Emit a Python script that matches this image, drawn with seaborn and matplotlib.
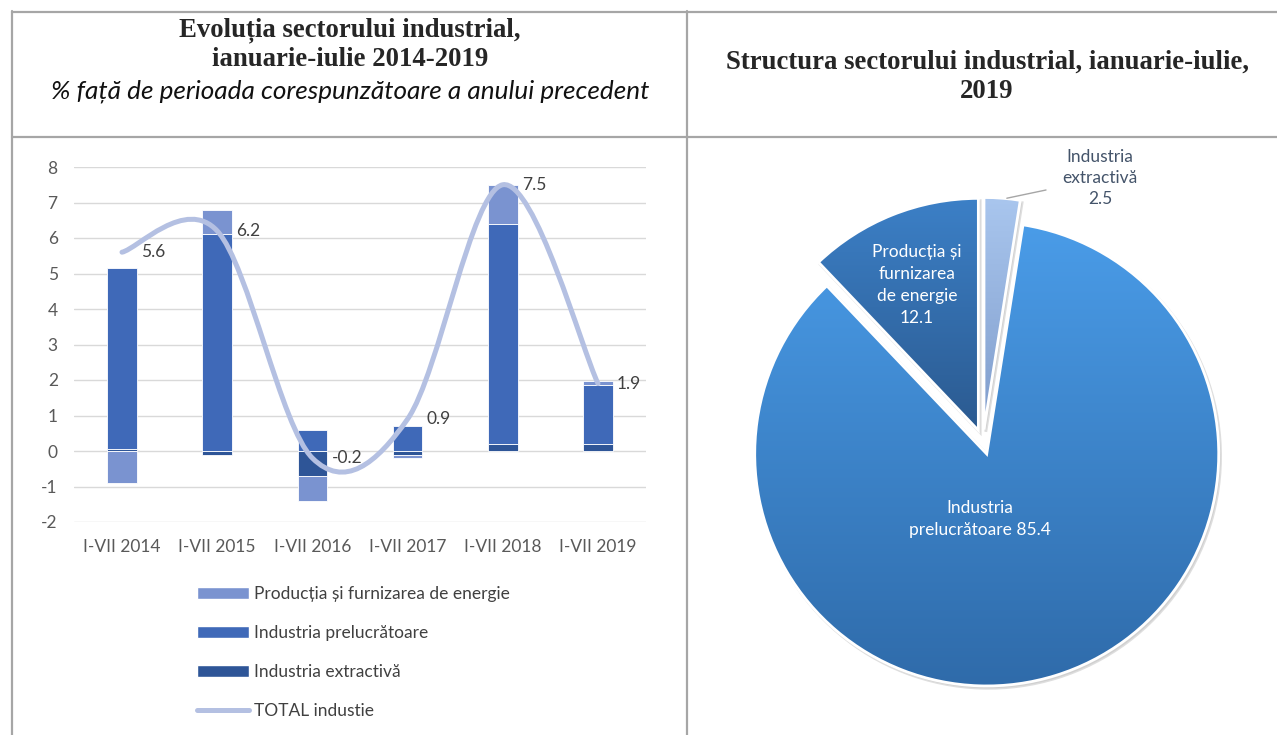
"""
Industrial sector chart: stacked contributions + total line, and structure pie.
"""

import numpy as np
import matplotlib
matplotlib.use('Agg')
import matplotlib.pyplot as plt
import seaborn as sns
import pandas as pd
from matplotlib.path import Path
from matplotlib.patches import PathPatch, Patch, Wedge
from matplotlib.lines import Line2D
from matplotlib.colors import LinearSegmentedColormap

W, H = 1277, 735

# ---- data ----
years = ['I-VII 2014', 'I-VII 2015', 'I-VII 2016', 'I-VII 2017', 'I-VII 2018', 'I-VII 2019']
extractiva = [0.05, -0.1, -0.7, -0.1, 0.2, 0.2]
prelucratoare = [5.1, 6.1, 0.6, 0.7, 6.2, 1.65]
energie = [-0.9, 0.7, -0.7, -0.1, 1.1, 0.12]
total = [5.6, 6.2, -0.2, 0.9, 7.5, 1.9]

pie_names = ['Industria\nextractivă', 'Industria\nprelucrătoare', 'Producția și\nfurnizarea\nde energie']
pie_values = [2.5, 85.4, 12.1]

c_en = '#7A93D0'
c_pr = '#3F69B8'
c_ex = '#2E5597'
c_line = '#B4C0E2'

sns.set_theme(style='white')
plt.rcParams['font.family'] = ['Lato', 'DejaVu Sans']
plt.rcParams['axes.unicode_minus'] = False

fs = 12.5

fig = plt.figure(figsize=(W / 100, H / 100), dpi=100)


def px_axes(l, t, r, b):
    return fig.add_axes([l / W, 1 - b / H, (r - l) / W, (b - t) / H])


# ---- left: stacked bars ----
ax = px_axes(74.4, 167, 645.6, 522)
x = np.arange(len(years))
pos_base = np.zeros(len(years))
neg_base = np.zeros(len(years))
for vals, col in [(extractiva, c_ex), (prelucratoare, c_pr), (energie, c_en)]:
    v = np.array(vals)
    bottom = np.where(v >= 0, pos_base, neg_base)
    df = pd.DataFrame({'an': years, 'v': v})
    sns.barplot(data=df, x='an', y='v', color=col, saturation=1, width=0.31,
                bottom=bottom, edgecolor='white', linewidth=0.6, errorbar=None,
                ax=ax, zorder=2)
    pos_base += np.clip(v, 0, None)
    neg_base += np.clip(v, None, 0)

# smoothed total line (Excel-style Bezier through the points)
pts = np.column_stack([x.astype(float), total])
verts = [pts[0]]
codes = [Path.MOVETO]
n = len(pts)
for i in range(n - 1):
    p0 = pts[i - 1] if i > 0 else pts[i]
    p3 = pts[i + 2] if i + 2 < n else pts[i + 1]
    verts += [pts[i] + (pts[i + 1] - p0) / 6, pts[i + 1] - (p3 - pts[i]) / 6, pts[i + 1]]
    codes += [Path.CURVE4] * 3
ax.add_patch(PathPatch(Path(verts, codes), fill=False, edgecolor=c_line, lw=3.6,
                       capstyle='round', zorder=3))
for xi, yi in zip(x, total):
    ax.annotate(f'{yi}', (xi, yi), xytext=(19, 0), textcoords='offset pixels',
                ha='left', va='center', fontsize=fs, color='#404040', zorder=4)

ax.set_xlim(-0.5, 5.5)
ax.set_ylim(-2, 8)
ax.set_yticks(range(-2, 9))
ax.set_xlabel('')
ax.set_ylabel('')
ax.yaxis.grid(True, color='#D9D9D9', lw=1)
ax.set_axisbelow(True)
sns.despine(ax=ax, left=True, bottom=True)
ax.tick_params(axis='both', length=0, labelsize=fs, colors='#595959')
ax.tick_params(axis='y', pad=12)
ax.tick_params(axis='x', pad=12)
ax.patch.set_visible(False)

handles = [Patch(facecolor=c_en), Patch(facecolor=c_pr), Patch(facecolor=c_ex),
           Line2D([0], [0], color=c_line, lw=3.6, solid_capstyle='round')]
labels = ['Producția și furnizarea de energie', 'Industria prelucrătoare',
          'Industria extractivă', 'TOTAL industie']
fig.legend(handles, labels, loc='upper left', bbox_to_anchor=(197 / W, 1 - 586 / H),
           frameon=False, fontsize=fs, handlelength=3.0, handleheight=0.7,
           handletextpad=0.3, labelspacing=1.33, borderpad=0, borderaxespad=0,
           labelcolor='#404040')

# ---- right: pie ----
R = 232
cx, cy = 983, 442
half = 300
pax = px_axes(cx - half, cy - half, cx + half, cy + half)
pax.patch.set_visible(False)
wedges, _ = pax.pie(pie_values, explode=[0.054] * 3, startangle=90,
                    counterclock=False, radius=1)
grads = [('#A9C6EE', '#7F9CCB'), ('#4A9CE8', '#2F6BAA'), ('#3C80C7', '#2B5A90')]
grad = np.linspace(0, 1, 256).reshape(-1, 1)
for w, (ctop, cbot) in zip(wedges, grads):
    sh = Wedge((w.center[0] + 0.008, w.center[1] - 0.01), w.r, w.theta1, w.theta2,
               facecolor='#BFBFBF', edgecolor='#D0D0D0', lw=2, alpha=0.7, zorder=0.5)
    pax.add_patch(sh)
    bb = w.get_path().get_extents(w.get_patch_transform())
    cmap = LinearSegmentedColormap.from_list('g', [ctop, cbot])
    im = pax.imshow(grad, cmap=cmap, extent=(bb.x0, bb.x1, bb.y0, bb.y1),
                    aspect='auto', origin='upper', zorder=1)
    im.set_clip_path(w)
    w.set_facecolor('none')
    w.set_edgecolor('white')
    w.set_linewidth(2)
    w.set_zorder(2)

lim = half / R
pax.set_xlim(-lim, lim)
pax.set_ylim(-lim, lim)
pax.set_aspect('equal')
pax.axis('off')


def pd2(px, py):
    return ((px - cx) / R, (cy - py) / R)


pax.text(*pd2(1100, 178), f'{pie_names[0]}\n{pie_values[0]}', ha='center', va='center',
         fontsize=fs, color='#44546A', linespacing=1.42)
pax.text(*pd2(917, 285), f'{pie_names[2]}\n{pie_values[2]}', ha='center', va='center',
         fontsize=fs, color='white', linespacing=1.46, zorder=5)
pax.text(*pd2(980, 519), f'{pie_names[1]} {pie_values[1]}', ha='center', va='center',
         fontsize=fs, color='white', linespacing=1.42, zorder=5)
w0 = wedges[0]
tm = np.deg2rad((w0.theta1 + w0.theta2) / 2)
sx, sy = w0.center[0] + w0.r * np.cos(tm) + 0.02, w0.center[1] + w0.r * np.sin(tm)
ex, ey = pd2(1046, 190)
pax.plot([sx, ex], [sy, ey], color='#A6A6A6', lw=1, zorder=3)

# ---- titles ----
serif = ['Liberation Serif', 'DejaVu Serif']
tfs = 19.3
fig.text(350 / W, 1 - 30 / H, 'Evoluția sectorului industrial,', ha='center', va='center',
         fontsize=tfs, fontweight='bold', family=serif)
fig.text(350 / W, 1 - 60 / H, 'ianuarie-iulie 2014-2019', ha='center', va='center',
         fontsize=tfs, fontweight='bold', family=serif)
fig.text(350 / W, 1 - 91 / H, '% față de perioada corespunzătoare a anului precedent',
         ha='center', va='center', fontsize=18.8, style='italic', color='#111111')
fig.text(987 / W, 1 - 62 / H, 'Structura sectorului industrial, ianuarie-iulie,',
         ha='center', va='center', fontsize=tfs, fontweight='bold', family=serif)
fig.text(987 / W, 1 - 92 / H, '2019', ha='center', va='center',
         fontsize=tfs, fontweight='bold', family=serif)

# ---- table borders ----
for (x1, y1, x2, y2) in [(12, 12, 1277, 12), (12, 137, 1277, 137),
                         (12, 11, 12, 735), (687, 11, 687, 735)]:
    fig.add_artist(Line2D([x1 / W, x2 / W], [1 - y1 / H, 1 - y2 / H],
                          transform=fig.transFigure, color='#A6A6A6', lw=1.6))

fig.savefig('out.png', dpi=100)
